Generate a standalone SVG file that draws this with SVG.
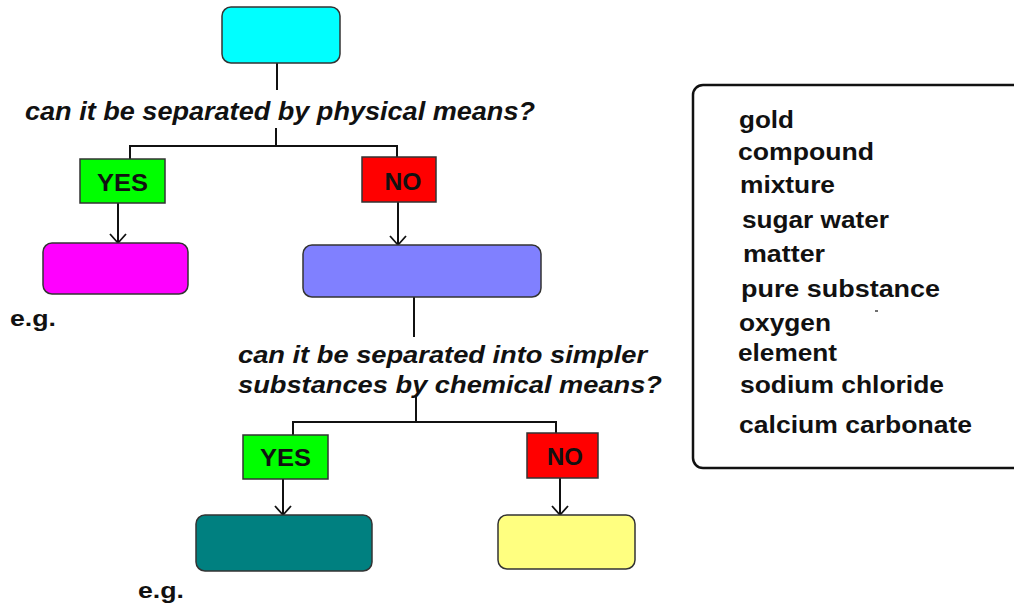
<svg xmlns="http://www.w3.org/2000/svg" width="1014" height="606" viewBox="0 0 1014 606">
<style>
.node{stroke:#333;stroke-width:1.5}
.lbl{stroke:#333;stroke-width:1.5}
.q{font-family:"Liberation Sans",Arial,sans-serif;font-weight:bold;font-style:italic;fill:#111}
.t{font-family:"Liberation Sans",Arial,sans-serif;font-weight:bold;fill:#111}
.conn{fill:none;stroke:#111;stroke-width:2}
</style>
<defs>
<marker id="arr" viewBox="0 0 20 16" refX="10" refY="14" markerWidth="20" markerHeight="16" markerUnits="userSpaceOnUse" orient="0">
<path d="M2,5 L10,14 L18,5" fill="none" stroke="#111" stroke-width="1.8"/>
</marker>
</defs>
<rect width="1014" height="606" fill="#fff"/>
<g id="connectors">
<path class="conn" d="M277,63 V90"/>
<path class="conn" d="M276,128 V146 M130,160 V146 H397 V158"/>
<path class="conn" d="M118,203 V243" marker-end="url(#arr)"/>
<path class="conn" d="M398,202 V245" marker-end="url(#arr)"/>
<path class="conn" d="M414,297 V337"/>
<path class="conn" d="M416,397 V422 M293,435 V422 H556 V433"/>
<path class="conn" d="M283,479 V515" marker-end="url(#arr)"/>
<path class="conn" d="M560,478 V515" marker-end="url(#arr)"/>
</g>
<g id="matter"><rect class="node" x="222" y="7" width="118" height="56" rx="9" fill="#00ffff"/></g>
<g id="q1"><text class="q" x="25" y="120" font-size="25" textLength="510" lengthAdjust="spacingAndGlyphs">can it be separated by physical means?</text></g>
<g id="yes1"><rect class="lbl" x="80" y="159" width="85" height="44" fill="#00ff00"/><text class="t" x="122.5" y="191" font-size="24" text-anchor="middle" textLength="51" lengthAdjust="spacingAndGlyphs">YES</text></g>
<g id="no1"><rect class="lbl" x="362" y="157" width="74" height="45" fill="#ff0000"/><text class="t" x="403" y="190" font-size="24" text-anchor="middle" textLength="37" lengthAdjust="spacingAndGlyphs">NO</text></g>
<g id="mixture"><rect class="node" x="43" y="243" width="145" height="51" rx="9" fill="#ff00ff"/></g>
<g id="puresub"><rect class="node" x="303" y="245" width="238" height="52" rx="9" fill="#8080ff"/></g>
<g id="eg1"><text class="t" x="10" y="326" font-size="22" textLength="46" lengthAdjust="spacingAndGlyphs">e.g.</text></g>
<g id="q2"><text class="q" x="238" y="363" font-size="24" textLength="409" lengthAdjust="spacingAndGlyphs">can it be separated into simpler</text><text class="q" x="238" y="393" font-size="24" textLength="424" lengthAdjust="spacingAndGlyphs">substances by chemical means?</text></g>
<g id="yes2"><rect class="lbl" x="243" y="435" width="85" height="44" fill="#00ff00"/><text class="t" x="285.5" y="466" font-size="24" text-anchor="middle" textLength="51" lengthAdjust="spacingAndGlyphs">YES</text></g>
<g id="no2"><rect class="lbl" x="527" y="433" width="71" height="45" fill="#ff0000"/><text class="t" x="565" y="465" font-size="24" text-anchor="middle" textLength="36" lengthAdjust="spacingAndGlyphs">NO</text></g>
<g id="compound"><rect class="node" x="196" y="515" width="176" height="56" rx="9" fill="#008080"/></g>
<g id="element"><rect class="node" x="498" y="515" width="137" height="54" rx="9" fill="#ffff80"/></g>
<g id="eg2"><text class="t" x="138" y="598" font-size="22" textLength="46" lengthAdjust="spacingAndGlyphs">e.g.</text></g>
<g id="legend">
<rect x="693" y="85" width="340" height="383" rx="10" fill="#fff" stroke="#111" stroke-width="2.5"/>
<text class="t" font-size="23" x="739" y="128" textLength="55" lengthAdjust="spacingAndGlyphs">gold</text>
<text class="t" font-size="23" x="738" y="160" textLength="136" lengthAdjust="spacingAndGlyphs">compound</text>
<text class="t" font-size="23" x="740" y="193" textLength="95" lengthAdjust="spacingAndGlyphs">mixture</text>
<text class="t" font-size="23" x="742" y="228" textLength="147" lengthAdjust="spacingAndGlyphs">sugar water</text>
<text class="t" font-size="23" x="743" y="262" textLength="82" lengthAdjust="spacingAndGlyphs">matter</text>
<text class="t" font-size="23" x="741" y="297" textLength="199" lengthAdjust="spacingAndGlyphs">pure substance</text>
<line x1="875" y1="311" x2="878" y2="311" stroke="#111" stroke-width="1.2"/>
<text class="t" font-size="23" x="739" y="331" textLength="92" lengthAdjust="spacingAndGlyphs">oxygen</text>
<text class="t" font-size="23" x="738" y="361" textLength="99" lengthAdjust="spacingAndGlyphs">element</text>
<text class="t" font-size="23" x="740" y="393" textLength="204" lengthAdjust="spacingAndGlyphs">sodium chloride</text>
<text class="t" font-size="23" x="739" y="433" textLength="233" lengthAdjust="spacingAndGlyphs">calcium carbonate</text>
</g>
</svg>
